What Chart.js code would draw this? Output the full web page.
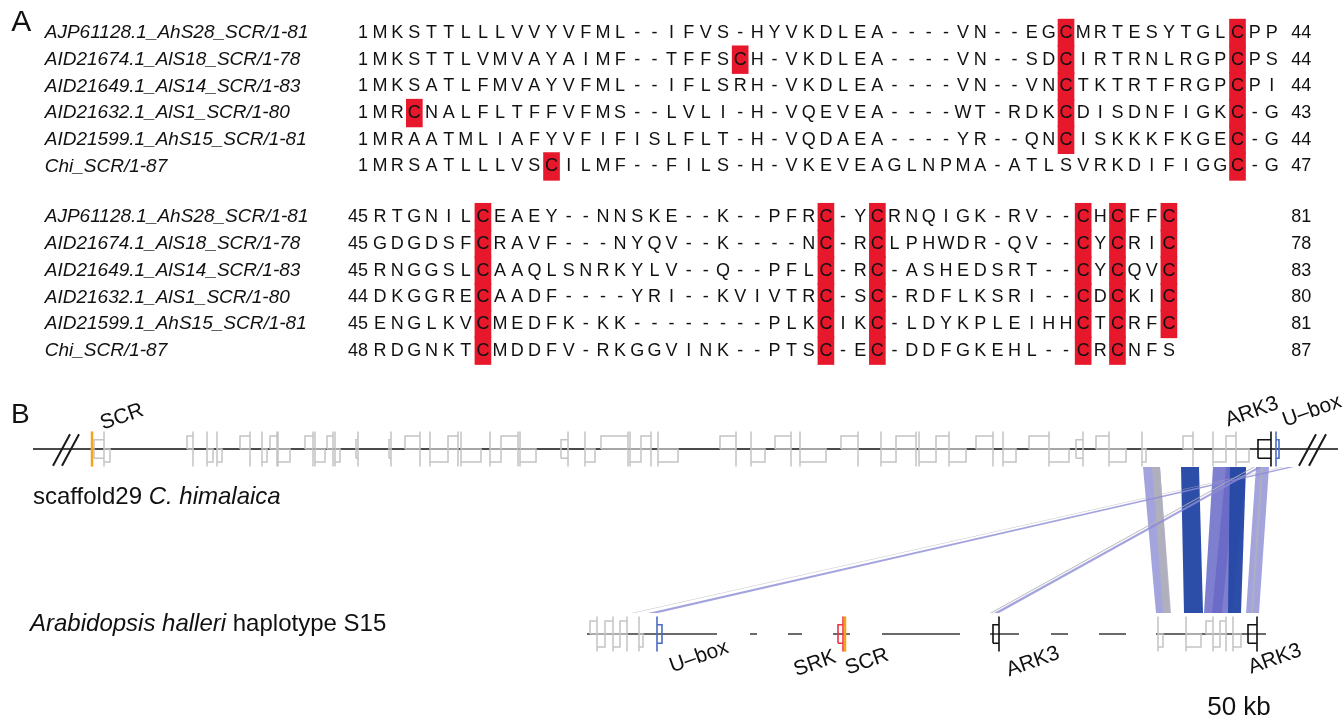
<!DOCTYPE html>
<html>
<head>
<meta charset="utf-8">
<script src="https://cdn.jsdelivr.net/npm/chart.js@4.4.1/dist/chart.umd.min.js"></script>
<style>
  html, body { margin: 0; padding: 0; background: #fff; }
  #wrap { position: relative; width: 1344px; height: 721px; overflow: hidden; }
  canvas { position: absolute; left: 0; }
</style>
</head>
<body>
<div id="wrap">
  <canvas id="aln" width="1344" height="380" style="top:0"></canvas>
  <canvas id="syn" width="1344" height="341" style="top:380px"></canvas>
</div>
<script>
// ---- Panel A : alineamiento SCR ----
const seqNames = [
  'AJP61128.1_AhS28_SCR/1-81',
  'AID21674.1_AlS18_SCR/1-78',
  'AID21649.1_AlS14_SCR/1-83',
  'AID21632.1_AlS1_SCR/1-80',
  'AID21599.1_AhS15_SCR/1-81',
  'Chi_SCR/1-87'
];
const block1Start = [1, 1, 1, 1, 1, 1];
const block1End = [44, 44, 44, 43, 44, 47];
const block1Seqs = [
  'MKSTTLLLVVYVFML--IFVS-HYVKDLEA----VN--EGCMRTESYTGLCPP',
  'MKSTTLVMVAYAIMF--TFFSCH-VKDLEA----VN--SDCIRTRNLRGPCPS',
  'MKSATLFMVAYVFML--IFLSRH-VKDLEA----VN--VNCTKTRTFRGPCPI',
  'MRCNALFLTFFVFMS--LVLI-H-VQEVEA----WT-RDKCDISDNFIGKC-G',
  'MRAATMLIAFYVFIFISLFLT-H-VQDAEA----YR--QNCISKKKFKGEC-G',
  'MRSATLLLVSCILMF--FILS-H-VKEVEAGLNPMA-ATLSVRKDIFIGGC-G'
];
const block2Start = [45, 45, 45, 44, 45, 48];
const block2End = [81, 78, 83, 80, 81, 87];
const block2Seqs = [
  'RTGNILCEAEY--NNSKE--K--PFRC-YCRNQIGK-RV--CHCFFC',
  'GDGDSFCRAVF---NYQV--K----NC-RCLPHWDR-QV--CYCRIC',
  'RNGGSLCAAQLSNRKYLV--Q--PFLC-RC-ASHEDSRT--CYCQVC',
  'DKGGRECAADF----YRI--KVIVTRC-SC-RDFLKSRI--CDCKIC',
  'ENGLKVCMEDFK-KK--------PLKCIKC-LDYKPLEIHHCTCRFC',
  'RDGNKTCMDDFV-RKGGVINK--PTSC-EC-DDFGKEHL--CRCNFS'
];

// ---- Panel B : sintenia (posiciones en kb) ----
// genes grises [inicio, fin, lado]  lado 1 = arriba, -1 = abajo, 0 = centrado
const topGenes = [
  [47, 52, 0], [52, 55, -1], [93.5, 96.5, 1], [103.5, 106.5, -1], [108.5, 111, -1],
  [120, 125, 1], [131, 133.5, -1], [135, 138.5, 1], [139, 145, -1], [152.5, 156.5, 1],
  [157.5, 162.5, -1], [163.5, 166.5, 1], [167.5, 170, -1], [178, 179, 0], [194.5, 195.5, 0],
  [202.5, 210, 1], [215, 224, -1], [224, 229, 1], [230.5, 240.5, -1], [245, 250.5, -1],
  [250.5, 259, 1], [260, 268, -1], [280.5, 284, 0], [292.5, 297.5, -1], [300.5, 314, 1],
  [315, 320.5, -1], [320.5, 325.5, 1], [329, 339, -1], [360, 368, 1], [375.5, 382.5, -1],
  [387.5, 395.5, 1], [400, 413, -1], [420.5, 429, 1], [440.5, 448, -1], [448, 458, 1],
  [459.5, 468, -1], [468, 474.5, 1], [474.5, 483, -1], [488, 496.5, 1], [501.5, 508, -1],
  [514.5, 524.5, 1], [524.5, 534.5, -1], [538, 541.5, 0], [548, 554.5, 1], [554.5, 563, -1],
  [571, 573, -1], [591.5, 596.5, 1], [606.5, 613, -1], [613, 618, 1], [618, 624.5, -1]
];
const topNamed = [['SCR', 46, 46.5], ['ARK3', 629, 635.5], ['U-box', 638, 639.5]];
const topSegments = [[16.5, 669]];

const bottomGenes = [
  [295, 298.5, 1], [298.5, 302.5, -1], [302.5, 306.5, 1], [306.5, 310, -1], [310, 313.5, 1],
  [319.5, 321.5, -1], [579, 581.5, -1], [593, 600.5, -1], [603, 606.5, 1], [606.5, 610, -1],
  [610, 613, 1], [616.5, 620.5, -1]
];
const bottomNamed = [['U-box', 328.5, 331], ['SRK', 419, 421.5], ['SCR', 422.5, 423.5],
  ['ARK3', 496.5, 499.5], ['ARK3', 624, 628.5]];
const bottomSegments = [[293.5, 358.5], [375, 378.5], [394, 401], [416.5, 425], [441, 480],
  [495, 509.5], [525.5, 534], [549.5, 563], [578, 633]];

// cintas de sintenia [tipo, arriba inicio, arriba fin, abajo inicio, abajo fin]
const ribbons = [
  ['weak', 571.5, 580, 578, 585],
  ['gray', 576, 580, 581.5, 585.5],
  ['strong', 590.5, 599.5, 592, 601.5],
  ['mid', 606.5, 618, 602, 611],
  ['mid', 613, 623, 606, 616],
  ['strong', 615, 623, 614, 620.5],
  ['weak', 628, 634.5, 623, 629.5],
  ['gray', 630.5, 631.5, 625.5, 626.5],
  ['weak', 629, 631, 497, 499.5],
  ['gray', 626.5, 627.5, 495, 496],
  ['weak', 644, 647, 324, 329],
  ['gray', 641, 642, 316, 317]
];

// ---------- estilos ----------
const FONT = '"Liberation Sans", Arial, Helvetica, sans-serif';
Chart.defaults.font.family = FONT;
const RED = '#e8182c';
const namedColor = { 'SCR': '#f6a21c', 'SRK': '#ee3342', 'ARK3': '#111111', 'U-box': '#4a6cc4' };
const ribbonColor = {
  strong: 'rgba(38,72,165,0.97)',
  mid: 'rgba(105,105,200,0.85)',
  weak: 'rgba(140,140,212,0.8)',
  gray: 'rgba(178,178,184,0.85)'
};

// ---------- Panel A ----------
const BLOCK2_ROW = 6.9;
const blocks = [
  { seqs: block1Seqs, start: block1Start, end: block1End, offset: 0 },
  { seqs: block2Seqs, start: block2Start, end: block2End, offset: BLOCK2_ROW }
];

const cysCells = [];
blocks.forEach(b => b.seqs.forEach((s, r) => {
  [...s].forEach((ch, i) => {
    if (ch === 'C') cysCells.push({ x: i + 1, y: [b.offset + r - 0.52, b.offset + r + 0.52] });
  });
}));

const NAME_COL = -18.55, START_COL = 0.3, END_COL = 55.3;

const alnText = {
  id: 'alnText',
  afterDatasetsDraw(chart) {
    const { ctx, scales: { x, y } } = chart;
    ctx.save();
    ctx.fillStyle = '#111';
    ctx.textBaseline = 'middle';
    blocks.forEach(b => {
      b.seqs.forEach((s, r) => {
        const py = y.getPixelForValue(b.offset + r);
        ctx.font = 'italic 19px ' + FONT;
        ctx.textAlign = 'left';
        ctx.fillText(seqNames[r], x.getPixelForValue(NAME_COL), py);
        ctx.font = '18px ' + FONT;
        ctx.textAlign = 'right';
        ctx.fillText(String(b.start[r]), x.getPixelForValue(START_COL), py);
        ctx.fillText(String(b.end[r]), x.getPixelForValue(END_COL), py);
        ctx.textAlign = 'center';
        [...s].forEach((ch, i) => ctx.fillText(ch, x.getPixelForValue(i + 1), py));
      });
    });
    ctx.font = '30px ' + FONT;
    ctx.textAlign = 'left';
    ctx.fillText('A', x.getPixelForValue(-20.5), y.getPixelForValue(-0.38));
    ctx.restore();
  }
};

new Chart(document.getElementById('aln'), {
  type: 'bar',
  data: { datasets: [{ data: cysCells, backgroundColor: RED, barThickness: 16, borderWidth: 0 }] },
  options: {
    responsive: false, animation: false, events: [],
    layout: { padding: 0 },
    scales: {
      x: { type: 'linear', display: false, offset: false, min: -21.16, max: 57.21 },
      y: { type: 'linear', display: false, reverse: true, min: -1.236, max: 13.0 }
    },
    plugins: { legend: { display: false }, tooltip: { enabled: false } }
  },
  plugins: [alnText]
});

// ---------- Panel B ----------
const TOP = 1, BOT = 0;
const BOX = 0.07, HALF = 0.05, TICK = 0.095;
const RIB_TOP = 0.903, RIB_BOT = 0.114;
const GAP = { x: 0, y: null };

function glyphPoints(s, e, side, base, tickAtStart) {
  let lo = base - HALF, hi = base + HALF;
  if (side > 0) { lo = base; hi = base + BOX; }
  if (side < 0) { lo = base - BOX; hi = base; }
  const t = tickAtStart ? s : e;
  return [
    { x: s, y: lo }, { x: e, y: lo }, { x: e, y: hi }, { x: s, y: hi }, { x: s, y: lo }, GAP,
    { x: t, y: base - TICK }, { x: t, y: base + TICK }, GAP
  ];
}

function grayGlyphs(list, base) {
  const pts = [];
  list.forEach(([s, e, side]) => pts.push(...glyphPoints(s, e, side, base, side < 0)));
  return pts;
}

function namedGlyphs(list, base, name) {
  const pts = [];
  list.filter(g => g[0] === name).forEach(([n, s, e]) => {
    if (n === 'SCR') pts.push({ x: s, y: base - TICK }, { x: s, y: base + TICK }, GAP);
    else pts.push(...glyphPoints(s, e, 0, base, n === 'U-box'));
  });
  return pts;
}

function segPoints(list, base) {
  const pts = [];
  list.forEach(([a, b]) => pts.push({ x: a, y: base }, { x: b, y: base }, GAP));
  return pts;
}

const lineDs = (data, color, width) => ({
  type: 'line', data, borderColor: color, borderWidth: width, pointRadius: 0,
  tension: 0, fill: false, spanGaps: false
});

const painter = [];
painter.push(lineDs(segPoints(topSegments, TOP), '#4a4a4a', 2));
painter.push(lineDs(segPoints(bottomSegments, BOT), '#3a3a3a', 1.6));
painter.push(lineDs(grayGlyphs(topGenes, TOP), '#c4c4c4', 1.5));
painter.push(lineDs(grayGlyphs(bottomGenes, BOT), '#c4c4c4', 1.5));
['U-box', 'SRK', 'ARK3', 'SCR'].forEach(n => {
  const w = n === 'SCR' ? 2.5 : 1.6;
  painter.push(lineDs(namedGlyphs(topNamed, TOP, n), namedColor[n], w));
  painter.push(lineDs(namedGlyphs(bottomNamed, BOT, n), namedColor[n], w));
});
// marcas de corte //
const breakMarks = [];
[[26.5, 31], [649.5, 654.5]].forEach(pair => pair.forEach(x0 => {
  breakMarks.push({ x: x0, y: TOP - 0.09 }, { x: x0 + 8.5, y: TOP + 0.08 }, GAP);
}));
painter.push(lineDs(breakMarks, '#1a1a1a', 2));
ribbons.forEach(([kind, t0, t1, b0, b1]) => {
  painter.push({
    type: 'line',
    data: [{ x: t0, y: RIB_TOP }, { x: t1, y: RIB_TOP }, { x: b1, y: RIB_BOT }, { x: b0, y: RIB_BOT }],
    borderWidth: 0, borderColor: 'rgba(0,0,0,0)', backgroundColor: ribbonColor[kind],
    fill: 'shape', pointRadius: 0, tension: 0
  });
});
painter.forEach((d, i) => { d.order = painter.length - i; });

const synLabels = [
  { text: 'SCR', x: 61, y: 1.173, rot: true },
  { text: 'ARK3', x: 626, y: 1.2, rot: true },
  { text: 'U\u2013box', x: 656, y: 1.205, rot: true },
  { text: 'U\u2013box', x: 349.5, y: -0.124, rot: true },
  { text: 'SRK', x: 407.5, y: -0.16, rot: true },
  { text: 'SCR', x: 433.5, y: -0.15, rot: true },
  { text: 'ARK3', x: 516.5, y: -0.15, rot: true },
  { text: 'ARK3', x: 637.5, y: -0.135, rot: true }
];

const synText = {
  id: 'synText',
  afterDatasetsDraw(chart) {
    const { ctx, scales: { x, y } } = chart;
    ctx.save();
    ctx.fillStyle = '#111';
    ctx.textBaseline = 'middle';
    ctx.textAlign = 'center';
    ctx.font = '21px ' + FONT;
    synLabels.forEach(l => {
      ctx.save();
      ctx.translate(x.getPixelForValue(l.x), y.getPixelForValue(l.y));
      if (l.rot) ctx.rotate(-0.34);
      ctx.fillText(l.text, 0, 0);
      ctx.restore();
    });
    ctx.font = '26px ' + FONT;
    ctx.fillText('50 kb', x.getPixelForValue(619.5), y.getPixelForValue(-0.4));
    ctx.font = '28px ' + FONT;
    ctx.textAlign = 'left';
    ctx.fillText('B', x.getPixelForValue(5.5), y.getPixelForValue(1.184));

    // nombres de las pistas
    ctx.font = '24px ' + FONT;
    let px = x.getPixelForValue(16.5);
    const y1 = y.getPixelForValue(0.74);
    ctx.fillText('scaffold29 ', px, y1);
    px += ctx.measureText('scaffold29 ').width;
    ctx.font = 'italic 24px ' + FONT;
    ctx.fillText('C. himalaica', px, y1);

    px = x.getPixelForValue(15);
    const y2 = y.getPixelForValue(0.05);
    ctx.fillText('Arabidopsis halleri', px, y2);
    px += ctx.measureText('Arabidopsis halleri').width;
    ctx.font = '24px ' + FONT;
    ctx.fillText(' haplotype S15', px, y2);
    ctx.restore();
  }
};

new Chart(document.getElementById('syn'), {
  type: 'line',
  data: { datasets: painter },
  options: {
    responsive: false, animation: false, events: [],
    layout: { padding: 0 },
    scales: {
      x: { type: 'linear', display: false, min: 0, max: 672 },
      y: { type: 'linear', display: false, min: -0.47, max: 1.373 }
    },
    plugins: { legend: { display: false }, tooltip: { enabled: false } }
  },
  plugins: [synText]
});
</script>
</body>
</html>
